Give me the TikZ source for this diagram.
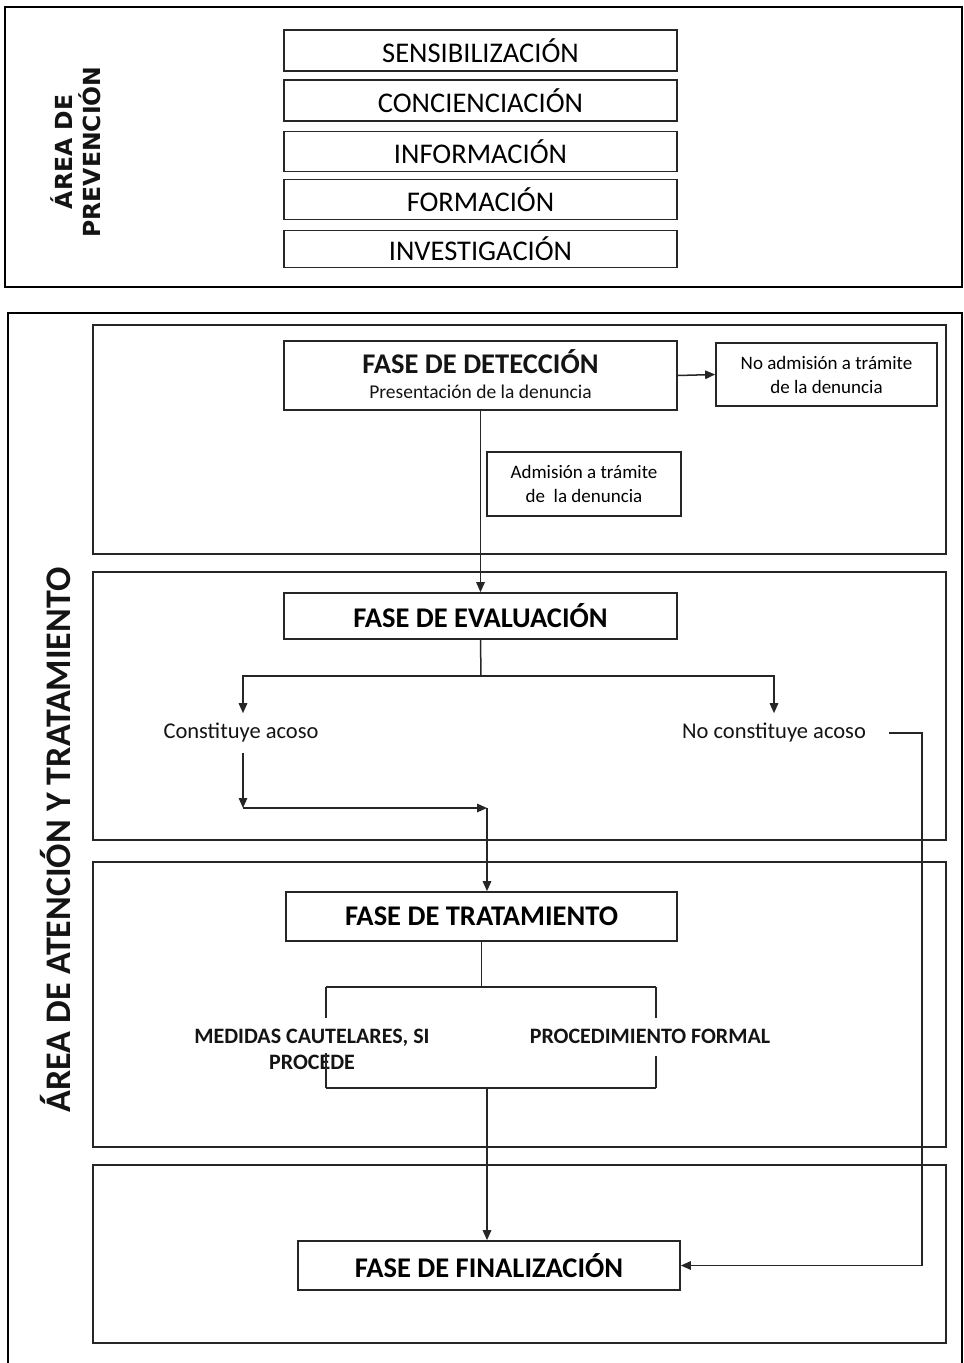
\documentclass[tikz,border=0pt]{standalone}
\usepackage{fontspec}
\setmainfont{Carlito}
\newfontfamily\dejavu{DejaVu Sans}
\usetikzlibrary{arrows.meta}
\tikzset{
  outerbox/.style={draw=black, line width=2.6pt},
  phasebox/.style={draw=black!85, line width=1.6pt},
  box/.style={draw=black!85, line width=1.7pt, rectangle, inner sep=0pt},
  lbl/.style={inner sep=0pt, text=black!92},
  conn/.style={draw=black!85, line width=1.5pt},
  arrow/.style={conn, -{Triangle[length=10pt,width=8.5pt]}},
  topfont/.style={font=\fontsize{28.5}{30}\selectfont},
  titlefont/.style={font=\bfseries\fontsize{28.5}{30}\selectfont},
}
\begin{document}
\begin{tikzpicture}[x=1pt,y=-1pt]
\useasboundingbox (0,0) rectangle (964,1363);
\fill[white] (0,0) rectangle (964,1363);
% ---------- Prevention area
\draw[outerbox] (5,7) rectangle (962,287);
\node[lbl, rotate=90, align=center, font=\dejavu\bfseries\fontsize{23.5}{28}\selectfont] (prev) at (76,152) {ÁREA DE\\PREVENCIÓN};
\node[box, minimum width=393pt, minimum height=41pt, topfont] (s1) at (480.5,50.5) {SENSIBILIZACIÓN};
\node[box, minimum width=393pt, minimum height=41pt, topfont] (s2) at (480.5,100.5) {CONCIENCIACIÓN};
\node[box, minimum width=393pt, minimum height=40pt, topfont] (s3) at (480.5,151.5) {INFORMACIÓN};
\node[box, minimum width=393pt, minimum height=40pt, topfont] (s4) at (480.5,199.5) {FORMACIÓN};
\node[box, minimum width=393pt, minimum height=37pt, topfont] (s5) at (480.5,249) {INVESTIGACIÓN};
% ---------- Attention area
\draw[outerbox] (8,313) rectangle (962,1380);
\node[lbl, rotate=90, font=\bfseries\fontsize{36}{40}\selectfont] (att) at (56,840) {ÁREA DE ATENCIÓN Y TRATAMIENTO};
\draw[phasebox] (93,325) rectangle (946,554);
\draw[phasebox] (93,572) rectangle (946,840);
\draw[phasebox] (93,862) rectangle (946,1147);
\draw[phasebox] (93,1165) rectangle (946,1343);
% detection
\node[box, minimum width=393pt, minimum height=69pt] (det) at (480.5,375.5) {};
\node[lbl, titlefont] (dett) at (480.5,362) {FASE DE DETECCIÓN};
\node[lbl, font=\fontsize{19.5}{22}\selectfont] (dets) at (480.5,392) {Presentación de la denuncia};
\node[box, minimum width=221pt, minimum height=63pt, align=center, font=\fontsize{19}{24}\selectfont] (noad) at (826.5,374.5) {No admisión a trámite\\de la denuncia};
\node[box, minimum width=194pt, minimum height=64pt, align=center, font=\fontsize{19}{24}\selectfont] (adm) at (584,484) {Admisión a trámite\\de\ \ la denuncia};
% evaluation
\node[box, minimum width=393pt, minimum height=46pt, titlefont] (eval) at (480.5,616) {FASE DE EVALUACIÓN};
\node[lbl, inner ysep=10pt, font=\fontsize{22.5}{26}\selectfont] (cons) at (241,733) {Constituye acoso};
\node[lbl, inner ysep=10pt, inner xsep=23pt, font=\fontsize{22.5}{26}\selectfont] (nocons) at (774,733) {No constituye acoso};
% treatment
\node[box, minimum width=391pt, minimum height=49pt, titlefont] (trat) at (481.5,916.5) {FASE DE TRATAMIENTO};
\node[lbl, align=center, font=\bfseries\fontsize{22}{26}\selectfont] (med) at (312,1049) {MEDIDAS CAUTELARES, SI\\PROCEDE};
\node[lbl, font=\bfseries\fontsize{22}{26}\selectfont] (proc) at (650,1036) {PROCEDIMIENTO FORMAL};
% finalization
\node[box, minimum width=382pt, minimum height=49pt, titlefont] (fin) at (489,1265.5) {FASE DE FINALIZACIÓN};
% ---------- connectors
\coordinate (split) at (481,676);
\coordinate (c1) at (243,808);
\coordinate (c2) at (487,808);
\coordinate (c3) at (922,1000);
\coordinate (t1) at (481.5,987);
\coordinate (bl) at (326,987);
\coordinate (br) at (656,987);
\coordinate (bbl) at (326,1088);
\coordinate (bbr) at (656,1088);
\coordinate (b1) at (487,1088);
\draw[arrow] (det.east) -- (noad.west);
\draw[arrow] (det.south) -- (eval.north);
\draw[conn] (eval.south) -- (split);
\draw[arrow] (split) -| (cons.north -| c1);
\draw[arrow] (split) -| (nocons.north);
\draw[arrow] (cons.south -| c1) -- (c1);
\draw[arrow] (c1) -- (c2);
\draw[arrow] (c2) -- (c2 |- trat.north);
\draw[arrow] (nocons.east) -| (c3) |- (fin.east);
\draw[conn] (trat.south) -- (t1);
\draw[conn] (bl) -- (br);
\draw[conn] (bbl) -- (bbr);
\draw[conn] (bl) -- ++(0,31);
\draw[conn] (bbl) -- ++(0,-35);
\draw[conn] (br) -- ++(0,31);
\draw[conn] (bbr) -- ++(0,-32);
\draw[arrow] (b1) -- (b1 |- fin.north);
\end{tikzpicture}
\end{document}
